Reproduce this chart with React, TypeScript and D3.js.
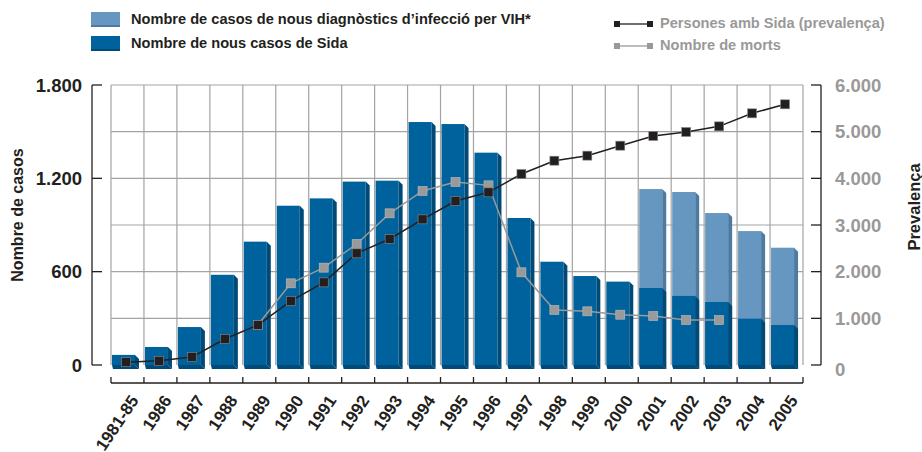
import * as d3 from 'd3';

const years = ['1981-85', '1986', '1987', '1988', '1989', '1990', '1991', '1992', '1993', '1994', '1995',
  '1996', '1997', '1998', '1999', '2000', '2001', '2002', '2003', '2004', '2005'];

// nous casos de Sida (eix esquerre)
const sida = [65, 116, 244, 580, 793, 1024, 1071, 1179, 1185, 1562, 1549, 1365, 945, 664, 572, 536, 495, 444, 405, 298, 257];
// nous diagnòstics VIH (només 2001-2005)
const vih: (number | null)[] = [null, null, null, null, null, null, null, null, null, null, null, null, null, null, null, null,
  1131, 1112, 977, 861, 754];
// persones amb Sida (eix dret)
const prevalenca = [60, 90, 170, 557, 857, 1371, 1771, 2393, 2700, 3121, 3514, 3700, 4093, 4378, 4486, 4700, 4907, 4993, 5114, 5393, 5586];
// nombre de morts (eix dret)
const morts: (number | null)[] = [null, null, null, null, 857, 1750, 2086, 2593, 3250, 3729, 3921, 3850, 1986, 1179, 1150, 1078,
  1050, 964, 964, null, null];

const leftTicks = [0, 600, 1200, 1800];
const rightTicks = [0, 1000, 2000, 3000, 4000, 5000, 6000];
const fmt = (v: number) => d3.format(',')(v).replace(/,/g, '.');

const W = 922, H = 452;
const plot = { left: 111, right: 803, top: 85, bottom: 365 };
const FONT = '"Liberation Sans", Arial, Helvetica, sans-serif';
const INK = '#231f20';
const GREY = '#999999';
const GRID = '#a3a3a3';

function Bar({ x0, w, yTop, yBot, front, side, d }: any) {
  const x1 = x0 + w;
  return (
    <g>
      <rect x={x0} y={yTop} width={w} height={yBot - yTop} fill={front} />
      <polygon points={`${x1},${yTop} ${x1 + d},${yTop + d} ${x1 + d},${yBot + d} ${x1},${yBot}`} fill={side} />
      <polygon points={`${x0},${yBot} ${x1},${yBot} ${x1 + d},${yBot + d} ${x0 + 1},${yBot + d}`} fill={side} />
    </g>
  );
}

export default function App() {
  const x = d3.scaleBand<string>().domain(years).range([plot.left, plot.right]);
  const yL = d3.scaleLinear().domain([0, 1800]).range([plot.bottom, plot.top]);
  const yR = d3.scaleLinear().domain([0, 6000]).range([plot.bottom, plot.top]);
  const bw = x.bandwidth();
  const frontW = 23;
  const depth = 4;
  const cx = (y: string) => (x(y) as number) + 15;

  const gridH = d3.range(300, 1801, 300);
  const edges = years.map(y => x(y) as number).concat([plot.right]);

  const linePrev = d3.line<number>().x((_, i) => cx(years[i])).y(v => yR(v));
  const lineMorts = d3.line<number | null>()
    .defined(v => v != null)
    .x((_, i) => cx(years[i])).y(v => yR(v as number));

  const ms = 9;

  return (
    <svg width={W} height={H} style={{ position: 'fixed', left: 0, top: 0, background: '#fff' }}
      fontFamily={FONT}>
      {/* legend */}
      <g fontWeight="bold" fontSize={14.6}>
        <rect x={91} y={12} width={29} height={14} fill="#6697c0" />
        <rect x={91} y={25} width={29} height={2} fill="#4e7aa0" />
        <text x={131} y={24} fill={INK}>Nombre de casos de nous diagnòstics d’infecció per VIH*</text>
        <rect x={91} y={36} width={29} height={14} fill="#00629c" />
        <rect x={91} y={49} width={29} height={2} fill="#004a78" />
        <text x={131} y={48} fill={INK}>Nombre de nous casos de Sida</text>

        <line x1={617} x2={649} y1={24} y2={24} stroke={INK} strokeWidth={1.3} />
        <rect x={614} y={21} width={6} height={6} fill={INK} />
        <rect x={647} y={21} width={6} height={6} fill={INK} />
        <text x={660} y={28} fill={GREY}>Persones amb Sida (prevalença)</text>
        <line x1={617} x2={649} y1={46} y2={46} stroke={GREY} strokeWidth={1.3} />
        <rect x={614} y={43} width={6} height={6} fill={GREY} />
        <rect x={647} y={43} width={6} height={6} fill={GREY} />
        <text x={660} y={50} fill={GREY}>Nombre de morts</text>
      </g>

      {/* grid */}
      <g stroke={GRID} strokeWidth={1.2}>
        {gridH.map(v => <line key={v} x1={plot.left} x2={plot.right} y1={yL(v)} y2={yL(v)} />)}
        {edges.map((e, i) => <line key={i} x1={e} x2={e} y1={plot.top} y2={plot.bottom} />)}
      </g>

      {/* bars */}
      {years.map((y, i) => {
        const x0 = (x(y) as number) + 1;
        const v = vih[i];
        return (
          <g key={y}>
            {v != null && (
              <Bar x0={x0} w={frontW} yTop={yL(v)} yBot={yL(0)} front="#6697c0" side="#4e7aa0" d={depth} />
            )}
            <Bar x0={x0} w={frontW} yTop={yL(sida[i])} yBot={yL(0)} front="#00629c" side="#004a78" d={depth} />
          </g>
        );
      })}

      {/* lines */}
      <path d={lineMorts(morts) as string} fill="none" stroke={GREY} strokeWidth={1.5} />
      {morts.map((v, i) => v == null ? null : (
        <rect key={i} x={cx(years[i]) - ms / 2} y={yR(v) - ms / 2} width={ms} height={ms} fill="#9a9a9a" stroke="#bdbdbd" strokeWidth={0.6} />
      ))}
      <path d={linePrev(prevalenca) as string} fill="none" stroke={INK} strokeWidth={1.5} />
      {prevalenca.map((v, i) => (
        <rect key={i} x={cx(years[i]) - ms / 2} y={yR(v) - ms / 2} width={ms} height={ms} fill={INK} stroke="#8a8a8a" strokeWidth={0.6} />
      ))}

      {/* left axis */}
      <g stroke={INK} strokeWidth={1.3}>
        <line x1={92} x2={92} y1={plot.top} y2={plot.bottom} />
        {leftTicks.map(t => <line key={t} x1={92} x2={102} y1={yL(t)} y2={yL(t)} />)}
      </g>
      <g fontWeight="bold" fontSize={18.5} fill={INK} textAnchor="end">
        {leftTicks.map(t => <text key={t} x={82} y={yL(t)} dy="0.36em">{fmt(t)}</text>)}
      </g>
      <text transform={`translate(23,215) rotate(-90)`} textAnchor="middle"
        fontWeight="bold" fontSize={16} fill={INK}>Nombre de casos</text>

      {/* right axis */}
      <g stroke={INK} strokeWidth={1.3}>
        <line x1={821} x2={821} y1={plot.top} y2={plot.bottom} />
        {rightTicks.map(t => <line key={t} x1={811} x2={821} y1={yR(t)} y2={yR(t)} />)}
      </g>
      <g fontWeight="bold" fontSize={18.5} fill={GREY}>
        {rightTicks.map(t => <text key={t} x={835} y={yR(t) + (t === 0 ? 4 : 0)} dy="0.36em">{fmt(t)}</text>)}
      </g>
      <text transform={`translate(920,207) rotate(-90)`} textAnchor="middle"
        fontWeight="bold" fontSize={16.5} fill={INK}>Prevalença</text>

      {/* x axis */}
      <g stroke={INK} strokeWidth={1.3}>
        <line x1={plot.left} x2={plot.right} y1={383} y2={383} />
        {edges.map((e, i) => <line key={i} x1={e} x2={e} y1={377} y2={383} />)}
      </g>
      <g fontWeight="bold" fontSize={17} fill={INK} textAnchor="end">
        {years.map(y => (
          <text key={y} transform={`translate(${(x(y) as number) + bw / 2 + 7},${397}) rotate(-56)`} dy="0.35em">{y}</text>
        ))}
      </g>
    </svg>
  );
}
